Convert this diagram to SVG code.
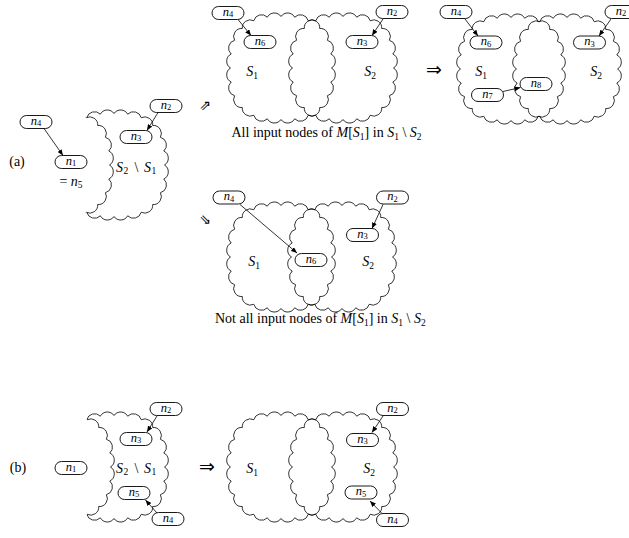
<svg xmlns="http://www.w3.org/2000/svg" xmlns:xlink="http://www.w3.org/1999/xlink" width="629" height="538" viewBox="0 0 629 538">
<style>
.cl{fill:none;stroke:#000;stroke-width:0.8}
.nd rect{fill:#fff;stroke:#000;stroke-width:0.9}
.nd text{font-size:12.5px}
.nd .s{font-size:8.5px}
.t{font-family:"Liberation Serif","DejaVu Serif",serif;font-size:14px;fill:#000}
.i{font-style:italic}
.s{font-size:9.5px}
.ar{font-family:"DejaVu Sans",sans-serif;fill:#000}
.cn line{stroke:#000;stroke-width:0.8;marker-end:url(#ah)}
</style>
<defs>
<path id="cloud" d="M50.5,0 A8,8 0 0 1 49.8,14 A8,8 0 0 1 46.4,27.7 A8,8 0 0 1 38.7,39.5 A8,8 0 0 1 27.2,47.3 A8,8 0 0 1 13.7,50.8 A8,8 0 0 1 0,51.5 A8,8 0 0 1 -13.7,50.8 A8,8 0 0 1 -27.2,47.3 A8,8 0 0 1 -38.7,39.5 A8,8 0 0 1 -46.4,27.7 A8,8 0 0 1 -49.8,14 A8,8 0 0 1 -50.5,0 A8,8 0 0 1 -49.8,-14 A8,8 0 0 1 -46.4,-27.7 A8,8 0 0 1 -38.7,-39.5 A8,8 0 0 1 -27.2,-47.3 A8,8 0 0 1 -13.7,-50.8 A8,8 0 0 1 0,-51.5 A8,8 0 0 1 13.7,-50.8 A8,8 0 0 1 27.2,-47.3 A8,8 0 0 1 38.7,-39.5 A8,8 0 0 1 46.4,-27.7 A8,8 0 0 1 49.8,-14 A8,8 0 0 1 50.5,0 Z"/>
<marker id="ah" markerUnits="userSpaceOnUse" markerWidth="6" markerHeight="5" refX="6" refY="2.5" orient="auto"><path d="M0,0 L6,2.5 L0,5 Z" fill="#000"/></marker>
<mask id="mA" maskUnits="userSpaceOnUse" x="0" y="0" width="629" height="538"><rect x="0" y="0" width="629" height="538" fill="#fff"/><path d="M50.5,0 A8,8 0 0 1 49.8,14 A8,8 0 0 1 46.4,27.7 A8,8 0 0 1 38.7,39.5 A8,8 0 0 1 27.2,47.3 A8,8 0 0 1 13.7,50.8 A8,8 0 0 1 0,51.5 A8,8 0 0 1 -13.7,50.8 A8,8 0 0 1 -27.2,47.3 A8,8 0 0 1 -38.7,39.5 A8,8 0 0 1 -46.4,27.7 A8,8 0 0 1 -49.8,14 A8,8 0 0 1 -50.5,0 A8,8 0 0 1 -49.8,-14 A8,8 0 0 1 -46.4,-27.7 A8,8 0 0 1 -38.7,-39.5 A8,8 0 0 1 -27.2,-47.3 A8,8 0 0 1 -13.7,-50.8 A8,8 0 0 1 0,-51.5 A8,8 0 0 1 13.7,-50.8 A8,8 0 0 1 27.2,-47.3 A8,8 0 0 1 38.7,-39.5 A8,8 0 0 1 46.4,-27.7 A8,8 0 0 1 49.8,-14 A8,8 0 0 1 50.5,0 Z" transform="translate(59,165)" fill="#000"/></mask>
<clipPath id="cA"><path d="M50.5,0 A8,8 0 0 1 49.8,14 A8,8 0 0 1 46.4,27.7 A8,8 0 0 1 38.7,39.5 A8,8 0 0 1 27.2,47.3 A8,8 0 0 1 13.7,50.8 A8,8 0 0 1 0,51.5 A8,8 0 0 1 -13.7,50.8 A8,8 0 0 1 -27.2,47.3 A8,8 0 0 1 -38.7,39.5 A8,8 0 0 1 -46.4,27.7 A8,8 0 0 1 -49.8,14 A8,8 0 0 1 -50.5,0 A8,8 0 0 1 -49.8,-14 A8,8 0 0 1 -46.4,-27.7 A8,8 0 0 1 -38.7,-39.5 A8,8 0 0 1 -27.2,-47.3 A8,8 0 0 1 -13.7,-50.8 A8,8 0 0 1 0,-51.5 A8,8 0 0 1 13.7,-50.8 A8,8 0 0 1 27.2,-47.3 A8,8 0 0 1 38.7,-39.5 A8,8 0 0 1 46.4,-27.7 A8,8 0 0 1 49.8,-14 A8,8 0 0 1 50.5,0 Z" transform="translate(114,165)"/></clipPath>
<mask id="mB" maskUnits="userSpaceOnUse" x="0" y="0" width="629" height="538"><rect x="0" y="0" width="629" height="538" fill="#fff"/><path d="M50.5,0 A8,8 0 0 1 49.8,14 A8,8 0 0 1 46.4,27.7 A8,8 0 0 1 38.7,39.5 A8,8 0 0 1 27.2,47.3 A8,8 0 0 1 13.7,50.8 A8,8 0 0 1 0,51.5 A8,8 0 0 1 -13.7,50.8 A8,8 0 0 1 -27.2,47.3 A8,8 0 0 1 -38.7,39.5 A8,8 0 0 1 -46.4,27.7 A8,8 0 0 1 -49.8,14 A8,8 0 0 1 -50.5,0 A8,8 0 0 1 -49.8,-14 A8,8 0 0 1 -46.4,-27.7 A8,8 0 0 1 -38.7,-39.5 A8,8 0 0 1 -27.2,-47.3 A8,8 0 0 1 -13.7,-50.8 A8,8 0 0 1 0,-51.5 A8,8 0 0 1 13.7,-50.8 A8,8 0 0 1 27.2,-47.3 A8,8 0 0 1 38.7,-39.5 A8,8 0 0 1 46.4,-27.7 A8,8 0 0 1 49.8,-14 A8,8 0 0 1 50.5,0 Z" transform="translate(60,467)" fill="#000"/></mask>
<clipPath id="cB"><path d="M50.5,0 A8,8 0 0 1 49.8,14 A8,8 0 0 1 46.4,27.7 A8,8 0 0 1 38.7,39.5 A8,8 0 0 1 27.2,47.3 A8,8 0 0 1 13.7,50.8 A8,8 0 0 1 0,51.5 A8,8 0 0 1 -13.7,50.8 A8,8 0 0 1 -27.2,47.3 A8,8 0 0 1 -38.7,39.5 A8,8 0 0 1 -46.4,27.7 A8,8 0 0 1 -49.8,14 A8,8 0 0 1 -50.5,0 A8,8 0 0 1 -49.8,-14 A8,8 0 0 1 -46.4,-27.7 A8,8 0 0 1 -38.7,-39.5 A8,8 0 0 1 -27.2,-47.3 A8,8 0 0 1 -13.7,-50.8 A8,8 0 0 1 0,-51.5 A8,8 0 0 1 13.7,-50.8 A8,8 0 0 1 27.2,-47.3 A8,8 0 0 1 38.7,-39.5 A8,8 0 0 1 46.4,-27.7 A8,8 0 0 1 49.8,-14 A8,8 0 0 1 50.5,0 Z" transform="translate(114,467)"/></clipPath>
</defs>

<g id="clouds">
<g mask="url(#mA)"><use xlink:href="#cloud" class="cl" x="114" y="165"/></g>
<g clip-path="url(#cA)"><use xlink:href="#cloud" class="cl" x="59" y="165"/></g>
<use xlink:href="#cloud" class="cl" x="281" y="68"/>
<use xlink:href="#cloud" class="cl" x="343" y="68"/>
<use xlink:href="#cloud" class="cl" x="511" y="69"/>
<use xlink:href="#cloud" class="cl" x="567" y="69"/>
<use xlink:href="#cloud" class="cl" x="281" y="257"/>
<use xlink:href="#cloud" class="cl" x="342" y="257"/>
<g mask="url(#mB)"><use xlink:href="#cloud" class="cl" x="114" y="467"/></g>
<g clip-path="url(#cB)"><use xlink:href="#cloud" class="cl" x="60" y="467"/></g>
<use xlink:href="#cloud" class="cl" x="281" y="467"/>
<use xlink:href="#cloud" class="cl" x="343" y="467"/>
</g>

<g id="connectors" class="cn">
<line x1="44" y1="128.5" x2="63" y2="155.5"/>
<line x1="158" y1="112.5" x2="147" y2="130.5"/>
<line x1="238" y1="19.5" x2="251" y2="35.5"/>
<line x1="383" y1="19" x2="372" y2="35.5"/>
<line x1="465" y1="19" x2="478" y2="36"/>
<line x1="611" y1="19" x2="599" y2="36"/>
<line x1="503" y1="91.5" x2="520.5" y2="87.5"/>
<line x1="240" y1="204.5" x2="297" y2="253"/>
<line x1="383" y1="204.5" x2="372" y2="228.5"/>
<line x1="157" y1="416" x2="147" y2="432"/>
<line x1="157" y1="513" x2="145.5" y2="500"/>
<line x1="383" y1="416" x2="372" y2="432.5"/>
<line x1="382" y1="513.5" x2="370" y2="501"/>
</g>

<g id="a-n4" class="nd"><rect x="20" y="115.5" width="32" height="13" rx="6.5"/><text class="t" x="36" y="124.5" text-anchor="middle"><tspan class="i">n</tspan><tspan class="s" dy="1.8">4</tspan></text></g>
<g id="a-n1" class="nd"><rect x="55" y="155.5" width="32" height="13" rx="6.5"/><text class="t" x="71" y="164.5" text-anchor="middle"><tspan class="i">n</tspan><tspan class="s" dy="1.8">1</tspan></text></g>
<g id="a-n2" class="nd"><rect x="150" y="99.5" width="32" height="13" rx="6.5"/><text class="t" x="166" y="108.5" text-anchor="middle"><tspan class="i">n</tspan><tspan class="s" dy="1.8">2</tspan></text></g>
<g id="a-n3" class="nd"><rect x="120" y="130.5" width="32" height="13" rx="6.5"/><text class="t" x="136" y="139.5" text-anchor="middle"><tspan class="i">n</tspan><tspan class="s" dy="1.8">3</tspan></text></g>

<g id="tm-n4" class="nd"><rect x="212" y="6.5" width="32" height="13" rx="6.5"/><text class="t" x="228" y="15.5" text-anchor="middle"><tspan class="i">n</tspan><tspan class="s" dy="1.8">4</tspan></text></g>
<g id="tm-n6" class="nd"><rect x="244" y="35.5" width="32" height="13" rx="6.5"/><text class="t" x="260" y="44.5" text-anchor="middle"><tspan class="i">n</tspan><tspan class="s" dy="1.8">6</tspan></text></g>
<g id="tm-n2" class="nd"><rect x="376" y="5.5" width="32" height="13" rx="6.5"/><text class="t" x="392" y="14.5" text-anchor="middle"><tspan class="i">n</tspan><tspan class="s" dy="1.8">2</tspan></text></g>
<g id="tm-n3" class="nd"><rect x="346" y="35.5" width="32" height="13" rx="6.5"/><text class="t" x="362" y="44.5" text-anchor="middle"><tspan class="i">n</tspan><tspan class="s" dy="1.8">3</tspan></text></g>

<g id="tr-n4" class="nd"><rect x="440" y="5.5" width="32" height="13" rx="6.5"/><text class="t" x="456" y="14.5" text-anchor="middle"><tspan class="i">n</tspan><tspan class="s" dy="1.8">4</tspan></text></g>
<g id="tr-n6" class="nd"><rect x="470" y="36" width="32" height="13" rx="6.5"/><text class="t" x="486" y="45" text-anchor="middle"><tspan class="i">n</tspan><tspan class="s" dy="1.8">6</tspan></text></g>
<g id="tr-n2" class="nd"><rect x="605" y="5.5" width="32" height="13" rx="6.5"/><text class="t" x="621" y="14.5" text-anchor="middle"><tspan class="i">n</tspan><tspan class="s" dy="1.8">2</tspan></text></g>
<g id="tr-n3" class="nd"><rect x="573.5" y="36" width="32" height="13" rx="6.5"/><text class="t" x="589.5" y="45" text-anchor="middle"><tspan class="i">n</tspan><tspan class="s" dy="1.8">3</tspan></text></g>
<g id="tr-n7" class="nd"><rect x="471.5" y="88.5" width="32" height="13" rx="6.5"/><text class="t" x="487.5" y="97.5" text-anchor="middle"><tspan class="i">n</tspan><tspan class="s" dy="1.8">7</tspan></text></g>
<g id="tr-n8" class="nd"><rect x="520" y="77.5" width="32" height="13" rx="6.5"/><text class="t" x="536" y="86.5" text-anchor="middle"><tspan class="i">n</tspan><tspan class="s" dy="1.8">8</tspan></text></g>

<g id="lo-n4" class="nd"><rect x="213" y="191" width="32" height="13" rx="6.5"/><text class="t" x="229" y="200" text-anchor="middle"><tspan class="i">n</tspan><tspan class="s" dy="1.8">4</tspan></text></g>
<g id="lo-n2" class="nd"><rect x="376.5" y="191" width="32" height="13" rx="6.5"/><text class="t" x="392.5" y="200" text-anchor="middle"><tspan class="i">n</tspan><tspan class="s" dy="1.8">2</tspan></text></g>
<g id="lo-n3" class="nd"><rect x="346.5" y="228.5" width="32" height="13" rx="6.5"/><text class="t" x="362.5" y="237.5" text-anchor="middle"><tspan class="i">n</tspan><tspan class="s" dy="1.8">3</tspan></text></g>
<g id="lo-n6" class="nd"><rect x="295" y="253.5" width="32" height="13" rx="6.5"/><text class="t" x="311" y="262.5" text-anchor="middle"><tspan class="i">n</tspan><tspan class="s" dy="1.8">6</tspan></text></g>

<g id="b-n1" class="nd"><rect x="55" y="461.5" width="32" height="13" rx="6.5"/><text class="t" x="71" y="470.5" text-anchor="middle"><tspan class="i">n</tspan><tspan class="s" dy="1.8">1</tspan></text></g>
<g id="b-n2" class="nd"><rect x="150" y="402.5" width="32" height="13" rx="6.5"/><text class="t" x="166" y="411.5" text-anchor="middle"><tspan class="i">n</tspan><tspan class="s" dy="1.8">2</tspan></text></g>
<g id="b-n3" class="nd"><rect x="120" y="432.5" width="32" height="13" rx="6.5"/><text class="t" x="136" y="441.5" text-anchor="middle"><tspan class="i">n</tspan><tspan class="s" dy="1.8">3</tspan></text></g>
<g id="b-n5" class="nd"><rect x="118" y="486.5" width="32" height="13" rx="6.5"/><text class="t" x="134" y="495.5" text-anchor="middle"><tspan class="i">n</tspan><tspan class="s" dy="1.8">5</tspan></text></g>
<g id="b-n4" class="nd"><rect x="152" y="512.5" width="32" height="13" rx="6.5"/><text class="t" x="168" y="521.5" text-anchor="middle"><tspan class="i">n</tspan><tspan class="s" dy="1.8">4</tspan></text></g>

<g id="br-n2" class="nd"><rect x="376.5" y="402.5" width="32" height="13" rx="6.5"/><text class="t" x="392.5" y="411.5" text-anchor="middle"><tspan class="i">n</tspan><tspan class="s" dy="1.8">2</tspan></text></g>
<g id="br-n3" class="nd"><rect x="346.5" y="433.5" width="32" height="13" rx="6.5"/><text class="t" x="362.5" y="442.5" text-anchor="middle"><tspan class="i">n</tspan><tspan class="s" dy="1.8">3</tspan></text></g>
<g id="br-n5" class="nd"><rect x="345" y="486" width="32" height="13" rx="6.5"/><text class="t" x="361" y="495" text-anchor="middle"><tspan class="i">n</tspan><tspan class="s" dy="1.8">5</tspan></text></g>
<g id="br-n4" class="nd"><rect x="376.5" y="513.5" width="32" height="13" rx="6.5"/><text class="t" x="392.5" y="522.5" text-anchor="middle"><tspan class="i">n</tspan><tspan class="s" dy="1.8">4</tspan></text></g>

<g id="labels">
<text class="t" x="17" y="166" text-anchor="middle">(a)</text>
<text class="t" x="18" y="472" text-anchor="middle">(b)</text>
<text class="t" x="71" y="185.5" text-anchor="middle">= <tspan class="i">n</tspan><tspan class="s" dy="2">5</tspan></text>
<text class="t" y="171.5"><tspan x="116" class="i">S</tspan><tspan x="123.5" class="s" dy="2.5">2</tspan><tspan x="134.5" dy="-2.5">\</tspan><tspan x="144" class="i">S</tspan><tspan x="151.5" class="s" dy="2.5">1</tspan></text>
<text class="t" y="472.5"><tspan x="116" class="i">S</tspan><tspan x="123.5" class="s" dy="2.5">2</tspan><tspan x="134.5" dy="-2.5">\</tspan><tspan x="144" class="i">S</tspan><tspan x="151.5" class="s" dy="2.5">1</tspan></text>
<text class="t" x="252" y="76" text-anchor="middle"><tspan class="i">S</tspan><tspan class="s" dy="2.5">1</tspan></text>
<text class="t" x="370" y="76" text-anchor="middle"><tspan class="i">S</tspan><tspan class="s" dy="2.5">2</tspan></text>
<text class="t" x="481" y="76" text-anchor="middle"><tspan class="i">S</tspan><tspan class="s" dy="2.5">1</tspan></text>
<text class="t" x="596" y="76" text-anchor="middle"><tspan class="i">S</tspan><tspan class="s" dy="2.5">2</tspan></text>
<text class="t" x="254" y="266" text-anchor="middle"><tspan class="i">S</tspan><tspan class="s" dy="2.5">1</tspan></text>
<text class="t" x="368" y="266" text-anchor="middle"><tspan class="i">S</tspan><tspan class="s" dy="2.5">2</tspan></text>
<text class="t" x="252" y="473" text-anchor="middle"><tspan class="i">S</tspan><tspan class="s" dy="2.5">1</tspan></text>
<text class="t" x="369" y="473" text-anchor="middle"><tspan class="i">S</tspan><tspan class="s" dy="2.5">2</tspan></text>
<text class="t" x="231.5" y="137">All input nodes of <tspan class="i">M</tspan>[<tspan class="i">S</tspan><tspan class="s" dy="2.5">1</tspan><tspan dy="-2.5">] in </tspan><tspan class="i">S</tspan><tspan class="s" dy="2.5">1</tspan><tspan dy="-2.5"> \ </tspan><tspan class="i">S</tspan><tspan class="s" dy="2.5">2</tspan></text>
<text class="t" x="215" y="323">Not all input nodes of <tspan class="i">M</tspan>[<tspan class="i">S</tspan><tspan class="s" dy="2.5">1</tspan><tspan dy="-2.5">] in </tspan><tspan class="i">S</tspan><tspan class="s" dy="2.5">1</tspan><tspan dy="-2.5"> \ </tspan><tspan class="i">S</tspan><tspan class="s" dy="2.5">2</tspan></text>
<text class="ar" x="205" y="110" font-size="14" text-anchor="middle">⇗</text>
<text class="ar" x="205" y="224" font-size="14" text-anchor="middle">⇘</text>
<text class="ar" x="434" y="76" font-size="19" text-anchor="middle">⇒</text>
<text class="ar" x="207" y="473" font-size="19" text-anchor="middle">⇒</text>
</g>
</svg>
